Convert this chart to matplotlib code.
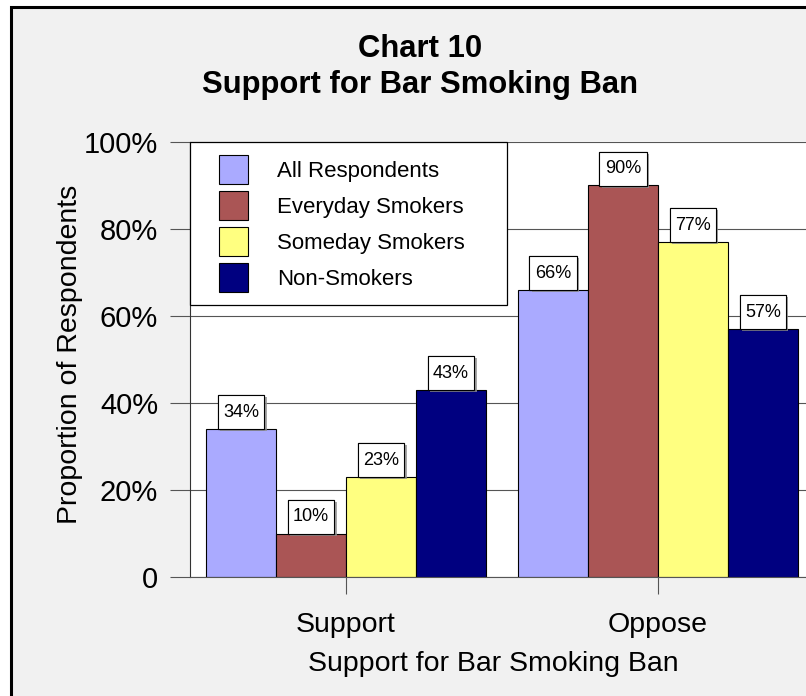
import matplotlib
matplotlib.use("Agg")
import matplotlib.pyplot as plt
import matplotlib.patheffects as pe
from matplotlib.patches import Rectangle
import numpy as np

plt.rcParams['font.family'] = ['Liberation Sans', 'DejaVu Sans']

groups = ["Support", "Oppose"]
series = ["All Respondents", "Everyday Smokers", "Someday Smokers", "Non-Smokers"]
all_resp = [34, 66]
everyday = [10, 90]
someday = [23, 77]
non_smokers = [43, 57]
yticks = [0, 20, 40, 60, 80, 100]
ytick_labels = ["0", "20%", "40%", "60%", "80%", "100%"]

colors = ["#aaaaff", "#aa5555", "#ffff80", "#000080"]
W, H = 806, 696

fig = plt.figure(figsize=(W / 100, H / 100), dpi=100, facecolor="white")
# grey panel with heavy black frame
fig.patches.append(Rectangle((10.5 / W, -0.05), 1.1, (H - 7.5) / H + 0.05,
                             transform=fig.transFigure, facecolor="#f1f1f1",
                             edgecolor="black", lw=2.2, zorder=-1))

ax = fig.add_axes([190 / W, (H - 577) / H, 624 / W, 435 / H])
ax.set_facecolor("white")
ax.set_xlim(-0.5, 1.5)
ax.set_ylim(0, 100)
ax.set_axisbelow(True)

x = np.arange(len(groups))
w = 70 / 312
for i, (name, vals) in enumerate(zip(series, [all_resp, everyday, someday, non_smokers])):
    pos = x + (i - 1.5) * w
    ax.bar(pos, vals, width=w, color=colors[i], edgecolor="black", lw=0.8,
           label=name, zorder=2)
    for px, v in zip(pos, vals):
        # taller-than-wide padding on the value boxes
        t = ax.annotate(f"{v}%", (px, v), xytext=(0, 6), textcoords="offset points",
                        ha="center", va="bottom", fontsize=13, zorder=6,
                        bbox=dict(boxstyle="square,pad=0.3", fc="white", ec="black",
                                  lw=0.8, mutation_aspect=1.55))
        t.get_bbox_patch().set_path_effects(
            [pe.withSimplePatchShadow(offset=(1.5, -1.5), shadow_rgbFace="#909090", alpha=0.8),
             pe.Normal()])

ax.set_yticks(yticks)
ax.set_yticklabels(ytick_labels)
ax.set_xticks(x)
ax.set_xticklabels(groups)
ax.yaxis.grid(True, color="#555555", lw=0.8)
ax.tick_params(axis="y", length=14.4, width=0.8, color="#555555", pad=8.6, labelsize=21)
ax.tick_params(axis="x", length=12, width=0.8, color="#555555", pad=13, labelsize=20.5)
for s in ["top", "right"]:
    ax.spines[s].set_visible(False)
ax.spines["left"].set_color("#333333")
ax.spines["bottom"].set_color("#555555")
ax.spines["left"].set_linewidth(0.8)
ax.spines["bottom"].set_linewidth(0.8)

# legend box sits in the upper-left corner of the plot area
ax.add_patch(Rectangle((0, (577 - 305) / 435), (507 - 190) / 624, (305 - 142) / 435,
                       transform=ax.transAxes, facecolor="white", edgecolor="black",
                       lw=0.9, zorder=4, clip_on=False))
fs_leg = 16
em = fs_leg * 100 / 72
ax.legend(loc="upper left", bbox_to_anchor=(29 / 624, (577 - 155) / 435),
          frameon=False, fontsize=fs_leg, borderpad=0, borderaxespad=0,
          handlelength=29 / em, handleheight=1.63, handletextpad=29 / em,
          labelspacing=7 / em).set_zorder(5)

ax.set_xlabel("Support for Bar Smoking Ban", fontsize=20.5)
ax.xaxis.set_label_coords((493 - 190) / 624, (577 - 651) / 435)
fig.text(70 / W, 1 - 354 / H, "Proportion of Respondents", rotation=90,
         ha="center", va="center", fontsize=20.5)

fig.text(420 / W, 1 - 57 / H, "Chart 10", ha="center", va="baseline",
         fontsize=22.3, fontweight="bold")
fig.text(420 / W, 1 - 93 / H, "Support for Bar Smoking Ban", ha="center",
         va="baseline", fontsize=22.3, fontweight="bold")

fig.savefig("out.png", dpi=100, facecolor=fig.get_facecolor())
